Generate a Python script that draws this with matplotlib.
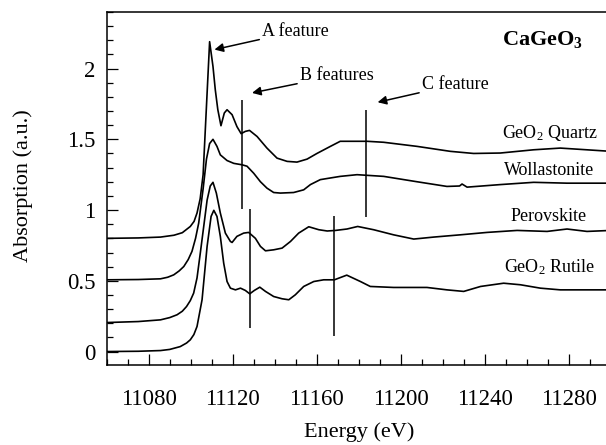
import matplotlib
matplotlib.use("Agg")
import matplotlib.pyplot as plt
from matplotlib.ticker import MultipleLocator, FixedLocator, FixedFormatter

plt.rcParams['font.family'] = ['Liberation Serif', 'DejaVu Serif']
plt.rcParams['mathtext.fontset'] = 'custom'
plt.rcParams['mathtext.rm'] = 'Liberation Serif'
plt.rcParams['mathtext.it'] = 'Liberation Serif:italic'
plt.rcParams['mathtext.bf'] = 'Liberation Serif:bold'

# GeO2 quartz (offset 0.8)
quartz_e = [11060, 11075, 11085.6, 11092, 11096, 11099.8, 11101.6, 11103, 11104.5, 11105.9,
            11109, 11110.6, 11111.7, 11112.9, 11114.4, 11116, 11117.3, 11119.7, 11122, 11124,
            11126, 11128, 11131.6, 11136.3, 11141.1, 11145.9, 11150.6, 11155.4, 11160.1,
            11166.5, 11171.2, 11184, 11191.9, 11207.8, 11223.6, 11234.7, 11247.4, 11263.3,
            11276, 11300]
quartz_a = [0.80, 0.803, 0.809, 0.822, 0.84, 0.884, 0.92, 0.979, 1.08, 1.25,
            2.19, 2.015, 1.85, 1.71, 1.596, 1.686, 1.709, 1.674, 1.59, 1.54,
            1.556, 1.563, 1.52, 1.438, 1.367, 1.344, 1.339, 1.36, 1.40,
            1.45, 1.486, 1.486, 1.479, 1.45, 1.415, 1.40, 1.403, 1.426,
            1.438, 1.415]

# wollastonite (offset 0.5)
woll_e = [11060, 11075, 11085.6, 11089, 11091.9, 11094.5, 11096.7, 11098.8, 11100.6, 11102.3,
          11103.8, 11105.9, 11107.5, 11109, 11110.6, 11112.5, 11114.1, 11117.3, 11120.5,
          11124.4, 11126.8, 11130, 11133.2, 11136.3, 11139.5, 11142.7, 11149, 11153.8, 11157,
          11161.7, 11166.2, 11171.2, 11179.2, 11191.9, 11207.8, 11222, 11228, 11229.2,
          11231.6, 11247.4, 11263.3, 11279.2, 11300]
woll_a = [0.507, 0.509, 0.514, 0.525, 0.542, 0.57, 0.601, 0.65, 0.708, 0.80,
          0.908, 1.15, 1.36, 1.47, 1.50, 1.45, 1.39, 1.35, 1.33,
          1.32, 1.31, 1.26, 1.20, 1.155, 1.124, 1.12, 1.124, 1.143, 1.18,
          1.215, 1.226, 1.238, 1.25, 1.238, 1.20, 1.167, 1.17, 1.184,
          1.162, 1.18, 1.196, 1.19, 1.19]

# perovskite (offset 0.2)
perov_e = [11060, 11075, 11085.6, 11090, 11093.5, 11096, 11098, 11099.8, 11101.4, 11103,
           11104.6, 11107.8, 11109.3, 11110.6, 11112.2, 11114.1, 11116.5, 11118.9, 11119.7,
           11122, 11125.2, 11127.6, 11130.8, 11133.2, 11135.6, 11139.5, 11143.5, 11147.5,
           11151.4, 11156.2, 11161, 11165, 11168.9, 11174.4, 11179.5, 11187.1, 11196.6,
           11206.2, 11215.7, 11228.4, 11241.1, 11255.4, 11269.7, 11279.2, 11288.7, 11300]
perov_a = [0.205, 0.212, 0.224, 0.24, 0.26, 0.285, 0.318, 0.36, 0.413, 0.52,
           0.70, 1.07, 1.17, 1.196, 1.12, 0.979, 0.837, 0.778, 0.771,
           0.814, 0.837, 0.842, 0.80, 0.743, 0.712, 0.719, 0.731, 0.778,
           0.837, 0.882, 0.861, 0.852, 0.856, 0.866, 0.884, 0.861, 0.825,
           0.795, 0.809, 0.825, 0.842, 0.856, 0.849, 0.866, 0.849, 0.856]

# GeO2 rutile (no offset)
rutile_e = [11060, 11075, 11085.6, 11090, 11095, 11098, 11099.8, 11101.5, 11103, 11105.4,
            11107.8, 11109.7, 11111, 11112.5, 11114.1, 11115.7, 11117.3, 11118.9, 11121.3,
            11123.7, 11126, 11128.1, 11130.3, 11132.9, 11135.6, 11139.5, 11143.5, 11146.7,
            11149.8, 11153.8, 11158.6, 11163.3, 11168.4, 11174.3, 11180.8, 11185.5, 11196.6,
            11212.5, 11222, 11230, 11238, 11249, 11257, 11266.5, 11276, 11300]
rutile_a = [0, 0.002, 0.007, 0.015, 0.035, 0.06, 0.083, 0.12, 0.177, 0.366,
            0.743, 0.955, 0.998, 0.955, 0.814, 0.625, 0.495, 0.448, 0.436,
            0.448, 0.432, 0.408, 0.432, 0.455, 0.425, 0.389, 0.373, 0.366,
            0.401, 0.46, 0.495, 0.507, 0.507, 0.54, 0.495, 0.46, 0.453,
            0.453, 0.436, 0.425, 0.46, 0.483, 0.472, 0.448, 0.436, 0.436]

# feature marker lines: energy, bottom, top
marker_e = [11124.5, 11128.2, 11183.4, 11168.4]
marker_lo = [1.01, 0.165, 0.95, 0.113]
marker_hi = [1.78, 1.01, 1.71, 0.955]

xticks = [11080, 11120, 11160, 11200, 11240, 11280]
xtick_labels = ['11080', '11120', '11160', '11200', '11240', '11280']
yticks = [0, 0.5, 1, 1.5, 2]
ytick_labels = ['0', '0.5', '1', '1.5', '2']

fig = plt.figure(figsize=(6.06, 4.45), dpi=100)
ax = fig.add_axes([0.1761, 0.1798, 0.8317, 0.7933])

for e, a in [(quartz_e, quartz_a), (woll_e, woll_a), (perov_e, perov_a), (rutile_e, rutile_a)]:
    ax.plot(e, a, color='black', lw=1.2)

ax.vlines(marker_e, marker_lo, marker_hi, color='black', lw=1.1)

ax.set_xlim(11060, 11300)
ax.set_ylim(-0.095, 2.4)
ax.spines['right'].set_visible(False)
for s in ['left', 'top', 'bottom']:
    ax.spines[s].set_linewidth(1.1)

ax.xaxis.set_major_locator(FixedLocator(xticks))
ax.xaxis.set_major_formatter(FixedFormatter(xtick_labels))
ax.xaxis.set_minor_locator(MultipleLocator(10))
ax.yaxis.set_major_locator(FixedLocator(yticks))
ax.yaxis.set_major_formatter(FixedFormatter(ytick_labels))
ax.yaxis.set_minor_locator(MultipleLocator(0.1))
ax.tick_params(which='both', direction='in', top=False, right=False, width=0.9)
ax.tick_params(which='major', length=8)
ax.tick_params(which='minor', length=4.5)
ax.tick_params(axis='x', which='major', labelsize=16.5, pad=17)
ax.tick_params(axis='y', which='major', labelsize=16.5, pad=8)

ax.set_xlabel("Energy (eV)", fontsize=16, va='center')
ax.xaxis.set_label_coords(0.5, -0.19)
ax.set_ylabel("Absorption (a.u.)", fontsize=16, va='center')
ax.yaxis.set_label_coords(-0.166, 0.508)

arrow = dict(arrowstyle='-|>', color='black', lw=1.1, mutation_scale=13, shrinkA=0, shrinkB=0)
ax.annotate("A feature", xy=(11111.3, 2.134), xytext=(11134, 2.262),
            fontsize=13, va='center', ha='left', arrowprops=arrow)
ax.annotate("B features", xy=(11129.2, 1.828), xytext=(11152, 1.95),
            fontsize=13, va='center', ha='left', arrowprops=arrow)
ax.annotate("C feature", xy=(11189, 1.762), xytext=(11210.1, 1.887),
            fontsize=13, va='center', ha='left', arrowprops=arrow)

ax.text(11248.2, 2.205, r"CaGeO$_\mathbf{3}$", fontsize=16, fontweight='bold', va='center')
ax.text(11248.2, 1.545, r"GeO$_2$ Quartz", fontsize=13, va='center')
ax.text(11249, 1.28, "Wollastonite", fontsize=13, va='center')
ax.text(11252.5, 0.955, "Perovskite", fontsize=13, va='center')
ax.text(11249, 0.60, r"GeO$_2$ Rutile", fontsize=13, va='center')

plt.savefig("out.png", dpi=100)
